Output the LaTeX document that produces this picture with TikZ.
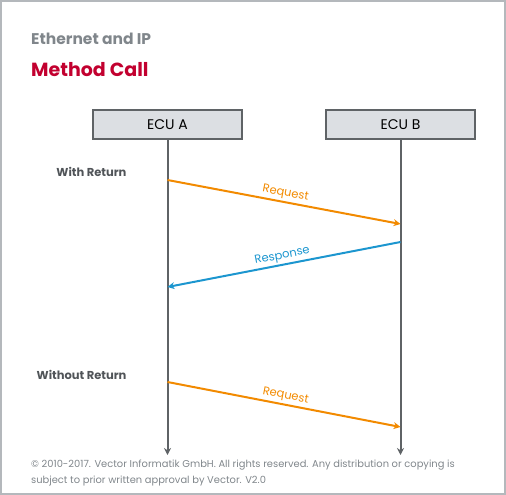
\documentclass[tikz,border=0pt]{standalone}
\usepackage{fontspec}
\setmainfont{Poppins}
\usetikzlibrary{arrows.meta}

\definecolor{framegray}{HTML}{B4B8BC}
\definecolor{titlegray}{HTML}{80868B}
\definecolor{vecred}{HTML}{C2002F}
\definecolor{boxfill}{HTML}{DCDFE3}
\definecolor{linegray}{HTML}{5F6366}
\definecolor{reqorange}{HTML}{F28A00}
\definecolor{resblue}{HTML}{1C96CF}
\definecolor{textgray}{HTML}{505458}

\tikzset{
  ecubox/.style={draw=linegray, fill=boxfill, line width=1.6pt, minimum width=149pt, minimum height=29pt, inner sep=0pt, font=\fontsize{14}{16}\selectfont},
  lifeline/.style={draw=linegray, line width=2pt, -{Stealth[length=7pt,width=7pt]}},
  request/.style={draw=reqorange, line width=2pt, -{Stealth[length=7pt,width=7pt]}},
  response/.style={draw=resblue, line width=2pt, -{Stealth[length=7pt,width=7pt]}},
  msglabel/.style={sloped, above, font=\fontsize{11.5}{13}\selectfont, inner sep=2pt},
  caselabel/.style={anchor=east, text=textgray, font=\fontsize{11.5}{13}\selectfont\bfseries}
}

\begin{document}
\begin{tikzpicture}[x=1pt, y=-1pt]
\useasboundingbox (0,0) rectangle (506,495);
\draw[framegray, line width=2pt] (1,1) rectangle (505,494);
% title
\node[anchor=base west, text=titlegray, font=\fontsize{15.5}{18}\selectfont\bfseries, inner sep=0pt] (topic) at (31,45) {Ethernet and IP};
\node[anchor=base west, text=vecred, font=\fontsize{19}{22}\selectfont\bfseries, inner sep=0pt] (title) at (31,77) {Method Call};
% ECUs
\node[ecubox] (ecuA) at (167.5,124.5) {ECU A};
\node[ecubox] (ecuB) at (400.5,124.5) {ECU B};
\coordinate (endA) at (167.5,455);
\coordinate (endB) at (400.5,455);
\draw[lifeline] (ecuA.south) -- (endA);
\draw[lifeline] (ecuB.south) -- (endB);
% with return
\node[caselabel] (withret) at (130,172) {With Return};
\coordinate (a1) at (167.5,180);
\coordinate (b1) at (400.5,224);
\coordinate (b2) at (400.5,242);
\coordinate (a2) at (167.5,287);
\draw[request] (a1) -- node[msglabel, text=reqorange, pos=0.5] {Request} (b1);
\draw[response] (b2) -- node[msglabel, text=resblue, pos=0.5] {Response} (a2);
% without return
\node[caselabel] (noret) at (130,375) {Without Return};
\coordinate (a3) at (167.5,382);
\coordinate (b3) at (400.5,427);
\draw[request] (a3) -- node[msglabel, text=reqorange, pos=0.5] {Request} (b3);
% footer
\node[anchor=north west, align=left, text=titlegray, font=\fontsize{9.9}{16}\selectfont, inner sep=0pt] (footer) at (31,460)
  {© 2010-2017. Vector Informatik GmbH. All rights reserved. Any distribution or copying is\\
   subject to prior written approval by Vector. V2.0};
\end{tikzpicture}
\end{document}
